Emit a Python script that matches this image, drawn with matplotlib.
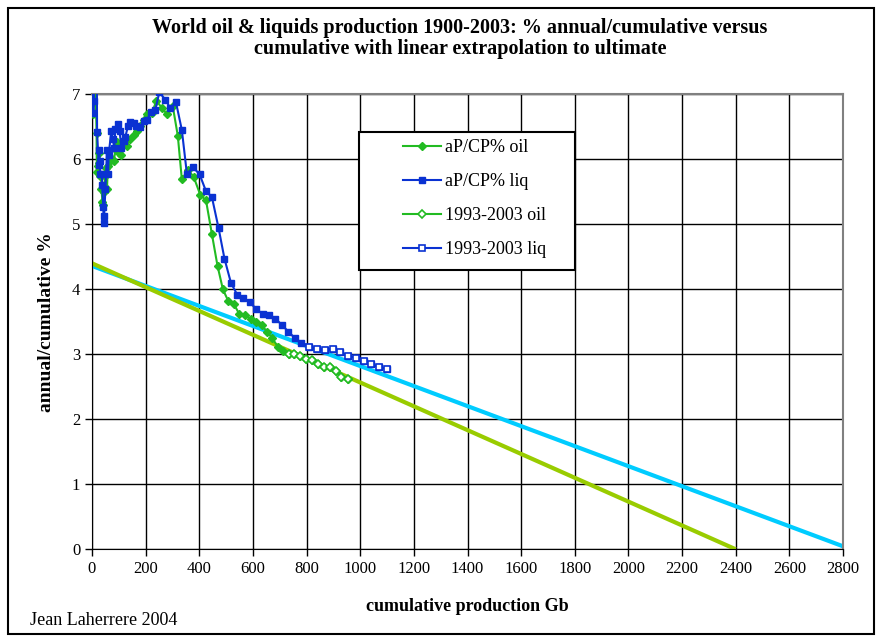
import numpy as np
import matplotlib.pyplot as plt
from matplotlib.patches import Rectangle

plt.rcParams['font.family'] = ['Liberation Serif', 'DejaVu Serif']

# cumulative production (Gb) and annual/cumulative (%) - crude oil
oil_cum = [1, 4.5, 5.5, 11, 17, 18, 23, 25, 27, 29,
           34, 35, 39, 41, 45, 49, 53, 56, 59, 67,
           74, 81, 88, 93, 100, 108, 118, 130, 143, 155,
           168, 180, 193, 205, 224, 240, 261, 280, 301, 320,
           335, 358, 379, 404, 425, 447, 468, 488, 508, 528,
           549, 570, 591, 612, 632, 652, 672, 692, 712, 733,
           754, 776, 798, 820, 842, 864, 886, 908, 930, 955]
oil_pct = [8.5, 6.7, 6.88, 7.5, 6.4, 5.8, 5.9, 6.1, 5.95, 5.75,
           5.75, 5.55, 5.35, 5.3, 5.5, 5.75, 5.87, 5.55, 5.9, 5.97,
           6.0, 5.97, 6.15, 6.26, 6.1, 6.06, 6.23, 6.21, 6.31, 6.38,
           6.44, 6.51, 6.6, 6.69, 6.72, 6.9, 6.79, 6.69, 6.82, 6.36,
           5.69, 5.84, 5.73, 5.45, 5.37, 4.85, 4.36, 4.0, 3.82, 3.78,
           3.62, 3.6, 3.55, 3.5, 3.45, 3.35, 3.25, 3.12, 3.05, 3.0,
           3.0, 2.98, 2.93, 2.92, 2.85, 2.8, 2.8, 2.75, 2.65, 2.62]

# same for all liquids
liq_cum = [1, 5, 6, 12, 18, 19, 25, 27, 29, 31,
           37, 38, 42, 43, 44, 50, 56, 60, 62, 72,
           77, 83, 87, 97, 103, 109, 118, 124, 134, 143,
           155, 164, 180, 193, 205, 221, 236, 251, 273, 292,
           313, 335, 354, 376, 401, 425, 447, 472, 494, 518,
           541, 564, 588, 612, 636, 660, 684, 708, 732, 756,
           780, 810, 839, 868, 897, 926, 955, 984, 1013, 1042, 1071, 1100]
liq_pct = [9.0, 6.72, 6.9, 7.6, 7.3, 6.42, 5.92, 6.14, 5.97, 5.77,
           5.77, 5.6, 5.27, 5.13, 5.02, 5.54, 6.14, 5.77, 6.06, 6.44,
           6.32, 6.18, 6.46, 6.54, 6.44, 6.18, 6.28, 6.34, 6.51, 6.57,
           6.56, 6.51, 6.5, 6.59, 6.61, 6.73, 6.76, 7.03, 6.92, 6.79,
           6.88, 6.45, 5.77, 5.88, 5.77, 5.51, 5.42, 4.94, 4.47, 4.1,
           3.92, 3.87, 3.8, 3.7, 3.62, 3.6, 3.55, 3.45, 3.35, 3.25,
           3.18, 3.12, 3.08, 3.07, 3.08, 3.03, 2.97, 2.95, 2.9, 2.85, 2.8, 2.78]

# last 11 years (1993-2003)
n_recent = 11

# linear extrapolations: (intercept %, ultimate Gb)
oil_fit = (4.40, 2400)
liq_fit = (4.36, 2830)

green = '#22BB22'
blue = '#0A32D2'

fig = plt.figure(figsize=(8.82, 6.42), dpi=100)
ax = fig.add_axes([0.1043, 0.1444, 0.8515, 0.7087])

# extrapolation lines
xs = np.array([0, 2800])
ax.plot(xs, liq_fit[0] * (1 - xs / liq_fit[1]), color='#00CCFF', lw=3, zorder=2, solid_capstyle='butt')
xo = np.array([0, oil_fit[1]])
ax.plot(xo, oil_fit[0] * (1 - xo / oil_fit[1]), color='#99CC00', lw=3, zorder=2.1, solid_capstyle='butt')

ax.plot(oil_cum, oil_pct, color=green, lw=1.5, marker='D', ms=4, mec=green, mfc=green,
        label='aP/CP% oil', zorder=3)
ax.plot(liq_cum, liq_pct, color=blue, lw=1.5, marker='s', ms=5, mec=blue, mfc=blue,
        label='aP/CP% liq', zorder=3.1)
ax.plot(oil_cum[-n_recent:], oil_pct[-n_recent:], color=green, lw=1.5, marker='D', ms=4,
        mec=green, mfc='white', mew=1.2, label='1993-2003 oil', zorder=3.2)
ax.plot(liq_cum[-n_recent:], liq_pct[-n_recent:], color=blue, lw=1.5, marker='s', ms=5,
        mec=blue, mfc='white', mew=1.2, label='1993-2003 liq', zorder=3.3)

ax.set_xlim(0, 2800)
ax.set_ylim(0, 7)
ax.set_xticks(range(0, 2801, 200))
ax.set_yticks(range(0, 8))
ax.grid(True, color='black', lw=1.0)
ax.set_axisbelow(True)
ax.tick_params(labelsize=12, length=5, direction='out', width=1)
for s in ['top', 'right']:
    ax.spines[s].set_color('#808080')
    ax.spines[s].set_linewidth(1.5)
for s in ['left', 'bottom']:
    ax.spines[s].set_color('black')

ax.set_xlabel('cumulative production Gb', fontsize=13, fontweight='bold', labelpad=15)
ax.set_ylabel('annual/cumulative %', fontsize=14, fontweight='bold', labelpad=12)

# legend box
ax.add_patch(Rectangle((0.3555, 0.613), 0.2875, 0.305, transform=ax.transAxes,
                       facecolor='white', edgecolor='black', lw=1.5, zorder=4.5, clip_on=False))
ax.legend(loc='upper left', bbox_to_anchor=(0.414, 0.902), frameon=False, fontsize=13,
          borderpad=0, borderaxespad=0, handlelength=2.1, handletextpad=0.25, labelspacing=0.95)

fig.text(0.5215, 0.94, 'World oil & liquids production 1900-2003: % annual/cumulative versus\n'
         'cumulative with linear extrapolation to ultimate',
         ha='center', va='center', fontsize=14.5, fontweight='bold', linespacing=1.05)
fig.text(0.034, 0.033, 'Jean Laherrere 2004', fontsize=13, ha='left', va='center')

# chart area border
fig.add_artist(Rectangle((0.009, 0.012), 0.982, 0.976, transform=fig.transFigure,
                         fill=False, edgecolor='black', lw=1.5))

plt.savefig('out.png', dpi=100)
